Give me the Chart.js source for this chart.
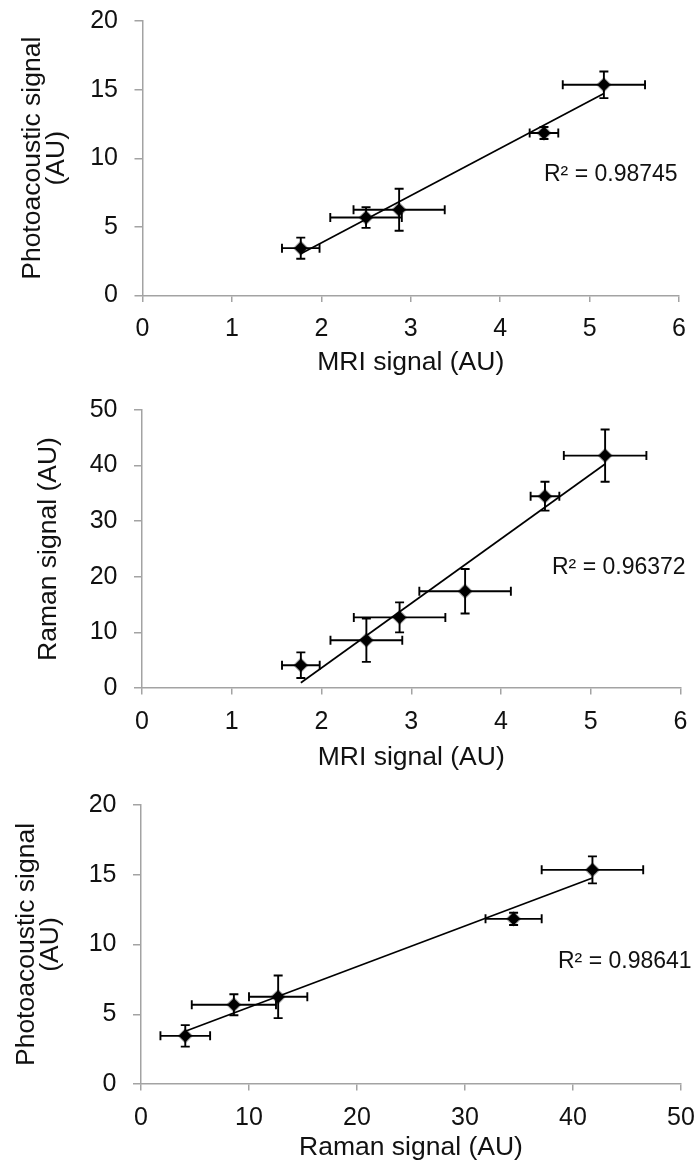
<!DOCTYPE html>
<html>
<head>
<meta charset="utf-8">
<script src="https://cdn.jsdelivr.net/npm/chart.js@4.4.1/dist/chart.umd.min.js"></script>
<style>
html,body{margin:0;padding:0;background:#fff;}
#wrap{position:relative;width:697px;height:1163px;overflow:hidden;background:#fff;}
canvas{position:absolute;left:0;}
</style>
</head>
<body>
<div id="wrap">
<canvas id="c1" width="697" height="388" style="top:0px"></canvas>
<canvas id="c2" width="697" height="388" style="top:388px"></canvas>
<canvas id="c3" width="697" height="387" style="top:776px"></canvas>
</div>
<script>
// ---------- data ----------
const mriSignal   = [1.77, 2.50, 2.87, 3.60, 4.49, 5.16];
const mriError    = [0.21, 0.40, 0.51, 0.51, 0.16, 0.46];
const ramanSignal = [4.1, 8.6, 12.7, 17.4, 34.5, 41.8];
const ramanError  = [2.3, 3.9, 2.7, 4.0, 2.6, 4.7];
const paSignal    = [3.45, 5.68, 6.25, null, 11.84, 15.35];
const paError     = [0.77, 0.75, 1.53, null, 0.44, 0.97];

const mriTicks   = [0, 1, 2, 3, 4, 5, 6];
const ramanTicks = [0, 10, 20, 30, 40, 50];
const paTicks    = [0, 5, 10, 15, 20];

const r2Labels = ['R\u00B2 = 0.98745', 'R\u00B2 = 0.96372', 'R\u00B2 = 0.98641'];
const xTitles = ['MRI signal (AU)', 'MRI signal (AU)', 'Raman signal (AU)'];
const yTitles = [['Photoacoustic signal', '(AU)'], 'Raman signal (AU)', ['Photoacoustic signal', '(AU)']];

// ---------- helpers ----------
const FONT = "'Liberation Sans', Arial, Helvetica, sans-serif";
const AXIS = '#a3a3a3';
const INK = '#111111';

function pairUp(xs, xe, ys, ye) {
  const out = [];
  for (let i = 0; i < xs.length; i++) {
    if (xs[i] == null || ys[i] == null) continue;
    out.push({x: xs[i], y: ys[i], xErr: xe[i], yErr: ye[i]});
  }
  return out;
}

function linFit(pts) {
  const n = pts.length;
  const mx = pts.reduce((s, p) => s + p.x, 0) / n;
  const my = pts.reduce((s, p) => s + p.y, 0) / n;
  let sxy = 0, sxx = 0;
  pts.forEach(p => { sxy += (p.x - mx) * (p.y - my); sxx += (p.x - mx) * (p.x - mx); });
  const b = sxy / sxx;
  return {a: my - b * mx, b};
}

const errorBarPlugin = {
  id: 'errorBars',
  beforeDatasetsDraw(chart) {
    const ctx = chart.ctx;
    const xs = chart.scales.x, ys = chart.scales.y;
    chart.data.datasets.forEach(ds => {
      if (!ds.errPoints) return;
      ctx.save();
      ctx.strokeStyle = '#000';
      ctx.lineWidth = 1.9;
      const cap = 4.5;
      ds.errPoints.forEach(p => {
        const px = xs.getPixelForValue(p.x), py = ys.getPixelForValue(p.y);
        const xl = xs.getPixelForValue(p.x - p.xErr), xr = xs.getPixelForValue(p.x + p.xErr);
        const yt = ys.getPixelForValue(p.y + p.yErr), yb = ys.getPixelForValue(p.y - p.yErr);
        ctx.beginPath();
        ctx.moveTo(xl, py); ctx.lineTo(xr, py);
        ctx.moveTo(xl, py - cap); ctx.lineTo(xl, py + cap);
        ctx.moveTo(xr, py - cap); ctx.lineTo(xr, py + cap);
        ctx.moveTo(px, yt); ctx.lineTo(px, yb);
        ctx.moveTo(px - cap, yt); ctx.lineTo(px + cap, yt);
        ctx.moveTo(px - cap, yb); ctx.lineTo(px + cap, yb);
        ctx.stroke();
      });
      ctx.restore();
    });
  }
};

const r2Plugin = {
  id: 'r2Label',
  afterDraw(chart, args, opts) {
    const ctx = chart.ctx;
    ctx.save();
    ctx.font = '23px ' + FONT;
    ctx.fillStyle = INK;
    ctx.textAlign = 'left';
    ctx.textBaseline = 'middle';
    ctx.fillText(opts.text, opts.left, opts.cy);
    ctx.restore();
  }
};

function tickSetter(arr) {
  return function(scale) { scale.ticks = arr.map(v => ({value: v})); };
}

function makeChart(id, spec) {
  const canvas = document.getElementById(id);
  const H = canvas.height;
  const pts = pairUp(spec.xs, spec.xe, spec.ys, spec.ye);
  const fit = linFit(pts);
  const xmin = Math.min(...pts.map(p => p.x));
  const xmax = Math.max(...pts.map(p => p.x));
  new Chart(canvas, {
    type: 'scatter',
    data: {
      datasets: [
        {
          type: 'line',
          data: [{x: xmin, y: fit.a + fit.b * xmin}, {x: xmax, y: fit.a + fit.b * xmax}],
          borderColor: '#000', borderWidth: 1.7, pointRadius: 0, fill: false, order: 0
        },
        {
          data: pts.map(p => ({x: p.x, y: p.y})),
          errPoints: pts,
          pointStyle: 'rectRot', pointRadius: 6.5, pointHoverRadius: 6.5,
          backgroundColor: '#000', borderColor: 'rgba(0,0,0,0.35)', borderWidth: 2, order: 1
        }
      ]
    },
    options: {
      responsive: false, animation: false, devicePixelRatio: 1,
      layout: {padding: {left: 0, top: spec.top, right: 697 - spec.right, bottom: 0}},
      plugins: {
        legend: {display: false}, tooltip: {enabled: false},
        r2Label: {text: spec.r2, left: spec.r2Left, cy: spec.r2Y}
      },
      scales: {
        x: {
          type: 'linear', position: 'bottom',
          min: spec.xt[0], max: spec.xt[spec.xt.length - 1],
          afterBuildTicks: tickSetter(spec.xt),
          afterFit: s => { s.height = H - spec.bottom; s.paddingLeft = 4; s.paddingRight = 4; },
          ticks: {font: {size: 25, family: FONT, lineHeight: 1.2}, color: INK, padding: 12.5, maxRotation: 0, autoSkip: false},
          grid: {drawOnChartArea: false, drawTicks: true, tickLength: 6.5, color: AXIS, lineWidth: 1.5},
          border: {display: true, color: AXIS, width: 1.5},
          title: {display: true, text: spec.xTitle, color: INK, font: {size: 26.5, family: FONT, lineHeight: 1.05}, padding: {top: 0, bottom: spec.xTitlePad}}
        },
        y: {
          type: 'linear', position: 'left',
          min: spec.yt[0], max: spec.yt[spec.yt.length - 1],
          afterBuildTicks: tickSetter(spec.yt),
          afterFit: s => { s.width = spec.left; s.paddingTop = 4; s.paddingBottom = 4; },
          ticks: {font: {size: 25, family: FONT, lineHeight: 1.2}, color: INK, padding: 16.5, autoSkip: false},
          grid: {drawOnChartArea: false, drawTicks: true, tickLength: 8, color: AXIS, lineWidth: 1.5},
          border: {display: true, color: AXIS, width: 1.5},
          title: {display: true, text: spec.yTitle, color: INK, font: {size: 26.5, family: FONT, lineHeight: 0.92}, padding: {top: spec.yTitlePad, bottom: 0}}
        }
      }
    },
    plugins: [errorBarPlugin, r2Plugin]
  });
}

makeChart('c1', {
  xs: mriSignal, xe: mriError, ys: paSignal, ye: paError,
  xt: mriTicks, yt: paTicks, xTitle: xTitles[0], yTitle: yTitles[0], r2: r2Labels[0],
  left: 142.5, right: 679, top: 21, bottom: 295.5,
  xTitlePad: 11, yTitlePad: 20.5, r2Left: 544, r2Y: 175
});
makeChart('c2', {
  xs: mriSignal, xe: mriError, ys: ramanSignal, ye: ramanError,
  xt: mriTicks, yt: ramanTicks, xTitle: xTitles[1], yTitle: yTitles[1], r2: r2Labels[1],
  left: 142, right: 680.5, top: 22, bottom: 300,
  xTitlePad: 4.5, yTitlePad: 36.5, r2Left: 552, r2Y: 180
});
makeChart('c3', {
  xs: ramanSignal, xe: ramanError, ys: paSignal, ye: paError,
  xt: ramanTicks, yt: paTicks, xTitle: xTitles[2], yTitle: yTitles[2], r2: r2Labels[2],
  left: 141, right: 681, top: 29, bottom: 308,
  xTitlePad: 1, yTitlePad: 14, r2Left: 558, r2Y: 186
});
</script>
</body>
</html>
